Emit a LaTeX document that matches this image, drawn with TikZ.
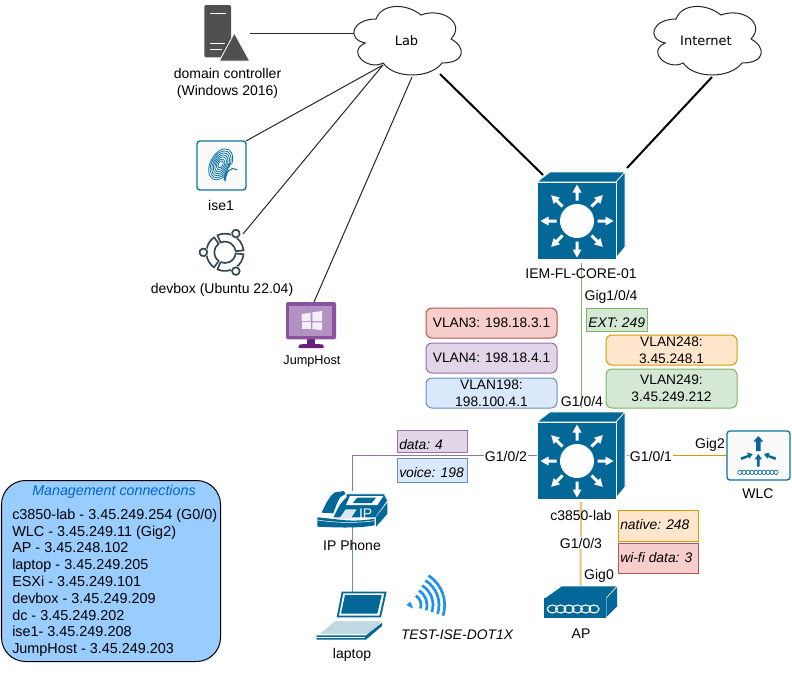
\documentclass[tikz,border=0pt]{standalone}
\usepackage{fontspec}
\setmainfont{Liberation Sans}
\newfontfamily\cloudfont{DejaVu Sans}
\usetikzlibrary{calc}
\definecolor{cis}{HTML}{036897}
\definecolor{rF}{HTML}{F8CECC}\definecolor{rD}{HTML}{B85450}
\definecolor{pF}{HTML}{E1D5E7}\definecolor{pD}{HTML}{9673A6}
\definecolor{bF}{HTML}{DAE8FC}\definecolor{bD}{HTML}{6C8EBF}
\definecolor{gF}{HTML}{D5E8D4}\definecolor{gD}{HTML}{82B366}
\definecolor{oF}{HTML}{FFE6CC}\definecolor{oD}{HTML}{D79B00}
\definecolor{yD}{HTML}{E5C77A}
\definecolor{mgmt}{HTML}{99CCFF}
\definecolor{mgmtT}{HTML}{0066CC}
\definecolor{srv}{HTML}{505050}
\definecolor{ubu}{HTML}{37474F}
\definecolor{isec}{HTML}{10739E}
\definecolor{jm}{HTML}{8A519E}
\definecolor{jl}{HTML}{B391C3}
\definecolor{jd}{HTML}{68217A}
\definecolor{wifi}{HTML}{1E90F0}
\tikzset{
  txt/.style={inner sep=0pt,font=\fontsize{10.5}{12.75}\selectfont,align=center},
  lbl/.style={txt,fill=white,inner xsep=1pt,inner ysep=1pt},
  vlan/.style n args={2}{draw=#2,fill=#1,line width=.75pt,rounded corners=4.5pt,inner sep=0pt,font=\fontsize{10.3}{12.9}\selectfont,align=center},
  tag/.style n args={2}{draw=#2,fill=#1,line width=.75pt},
  tagt/.style={inner sep=0pt,font=\fontsize{10.4}{12}\selectfont\itshape,anchor=west},
  slot/.style={inner sep=0pt,outer sep=0pt,rectangle},
  thin1/.style={line width=.75pt,draw=black!85},
  thick2/.style={line width=1.5pt,draw=black},
}
\newcommand{\slotnode}[5]{\node[slot,minimum width=#4*.75pt,minimum height=#5*.75pt,anchor=north west] (#1) at (#2,#3) {};}
\newcommand{\cloudicon}[2]{%
  \begin{scope}[shift={(#1,#2)},x=90pt,y=-60pt]
  \draw[line width=.75pt,draw=black!85,fill=white] (.25,.25) .. controls (.05,.25) and (0,.5) .. (.16,.55)
   .. controls (0,.66) and (.18,.9) .. (.31,.8)
   .. controls (.4,1) and (.7,1) .. (.8,.8)
   .. controls (1,.8) and (1,.6) .. (.875,.5)
   .. controls (1,.3) and (.8,.1) .. (.625,.2)
   .. controls (.5,.05) and (.3,.05) .. (.25,.25) -- cycle;
  \end{scope}}
\newcommand{\switchicon}[2]{%
  \begin{scope}[shift={(#1,#2)}]
  \fill[cis,draw=white,line width=.5pt] (0,0) -- (13,-10) -- (88,-10) -- (79,0) -- cycle;
  \fill[cis,draw=white,line width=.5pt] (79,0) -- (88,-10) -- (88,65) -- (79,76) -- cycle;
  \fill[cis,draw=white,line width=.5pt] (0,0) rectangle (79,77);
  \fill[white] (40,39) circle (17);
  \foreach \a in {0,45,...,315}{
    \begin{scope}[shift={(40,39)},rotate=\a]
    \fill[white] (20.5,-1.5) -- (28.5,-1.5) -- (28.5,-4.5) -- (36.5,0) -- (28.5,4.5) -- (28.5,1.5) -- (20.5,1.5) -- cycle;
    \end{scope}}
  \end{scope}}
\begin{document}
\begin{tikzpicture}[x=.75pt,y=-.75pt]
\useasboundingbox (0,0) rectangle (792,675);
\fill[white] (0,0) rectangle (792,675);

% slots
\slotnode{dc}{204}{5}{46}{56}
\slotnode{ise}{197}{141}{49}{49}
\slotnode{devbox}{200}{230}{44}{44}
\slotnode{jump}{286}{302}{50}{52}
\slotnode{core}{537}{172}{88}{87}
\slotnode{lab3850}{537}{411}{88}{89}
\slotnode{wlc}{727}{431}{63}{49}
\slotnode{ap}{544}{586}{73}{32}
\slotnode{phone}{317}{491}{70}{36}
\slotnode{lapt}{317}{592}{70}{48}
\slotnode{wific}{405}{581}{38}{38}
\slotnode{labcloud}{346}{-1}{120}{80}
\slotnode{netcloud}{646}{-1}{120}{80}
\coordinate (labW) at (354,33);
\coordinate (labSW) at (383,65);
\coordinate (labS) at (412,77);
\coordinate (labSE) at (440,74);
\coordinate (netS) at (712,77);

% connectors
\draw[thin1] (dc.east) -- (labW);
\draw[thin1] (ise.north east) -- (labSW);
\draw[thin1] ($(devbox.north east)+(-1,4)$) -- (labSW);
\draw[thin1] ($(jump.north)+(3,0)$) -- (labS);
\draw[thick2] (labSE) -- ($(core.north west)+(6,3)$);
\draw[thick2] (netS) -- ($(core.north east)+(2,-4)$);
\draw[gD,line width=.75pt,shorten <=3pt,shorten >=2pt] (core.south) -- (lab3850.north);
\draw[oD,line width=.75pt,shorten <=1.5pt] (lab3850.east) -- (wlc.west);
\draw[pD,line width=.75pt] (lab3850.west) -| (phone.north);
\draw[bD,line width=.75pt] (phone.south) -- (lapt.north);
\draw[yD,line width=1.5pt,shorten <=1.5pt] (lab3850.south) -- (ap.north);

% clouds
\cloudicon{346}{-1}
\cloudicon{646}{-1}
\node[inner sep=0pt,font=\cloudfont\fontsize{9.75}{11}\selectfont] (labt) at (406.5,41) {Lab};
\node[inner sep=0pt,font=\cloudfont\fontsize{9.75}{11}\selectfont] (nett) at (706,41) {Internet};

% domain controller
\begin{scope}[shift={(150,0)},x=.25pt,y=-.25pt]
  \fill[srv,rounded corners=1.5pt] (163,15) rectangle (243,172);
  \draw[white,line width=1.2pt] (180,40) -- (228,40) (180,130) -- (225,130) (180,148) -- (215,148);
  \fill[srv,draw=white,line width=.6pt,line join=round] (208,183) -- (299,183) -- (253,99) -- cycle;
\end{scope}
\node[txt] (dct) at (227.5,83.5) {domain controller\\(Windows 2016)};

% ise
\draw[isec,fill=black!2,line width=1pt,rounded corners=2.2pt] (ise.north west) rectangle (ise.south east);
\begin{scope}[shift={(150,130)},x=.25pt,y=-.25pt]
  \begin{scope}[shift={(212,103)},rotate=-28]
  \foreach \s in {1,.87,.74,.61,.48,.35,.22}
    \draw[isec,line width=.6pt] (0,0) ellipse ({31*\s} and {50*\s});
  \end{scope}
  \fill[black!2] (228,160) -- (270,130) -- (248,100) -- (228,122) -- cycle;
  \draw[isec,line width=.8pt] (225,155) .. controls (228,125) and (240,108) .. (262,120) (240,100) .. controls (235,115) and (226,125) .. (222,150);
\end{scope}
\node[txt] (iset) at (221,205) {ise1};

% ubuntu
\begin{scope}[shift={(150,130)},x=.25pt,y=-.25pt]
  \foreach \a in {0,120,240}{
    \begin{scope}[shift={(225,367)},rotate=\a]
    \draw[ubu,line width=1.25pt,fill=white,line join=round] (6:32) arc (6:114:32) -- (114:56) arc (114:6:56) -- cycle;
    \fill[white] (60:65) circle (16);
    \draw[ubu,line width=1.25pt] (60:65) circle (11.5);
    \end{scope}}
\end{scope}
\node[txt] (devt) at (222,290) {devbox (Ubuntu 22.04)};

% jumphost
\begin{scope}[shift={(150,130)},x=.25pt,y=-.25pt]
  \fill[jd] (472,625) rectangle (495,644);
  \fill[jd,rounded corners=1.5pt] (445,654) -- (445,648) .. controls (450,642) and (517,642) .. (522,648) -- (522,654) -- cycle;
  \fill[jm,rounded corners=1.5pt] (408,516) rectangle (558,628);
  \fill[jl] (418,527) rectangle (547,617);
  \fill[white!85!jl] (455,552) -- (482,548) -- (482,573) -- (455,573) -- cycle;
  \fill[white!85!jl] (487,547) -- (516,543) -- (516,573) -- (487,573) -- cycle;
  \fill[white!85!jl] (455,577) -- (482,577) -- (482,597) -- (455,597) -- cycle;
  \fill[white!85!jl] (487,577) -- (516,577) -- (516,601) -- (487,597) -- cycle;
  \fill[yellow!60!black] (482,522) circle (2);
\end{scope}
\node[inner sep=0pt,font=\fontsize{9.5}{11}\selectfont] (jumpt) at (312,361) {JumpHost};

% core switch
\switchicon{537}{182}
\node[txt] (coret) at (581,274) {IEM-FL-CORE-01};
\node[lbl,anchor=west,fill=white] (g104a) at (583,297) {Gig1/0/4};
\node[tag={gF}{gD},minimum width=61*.75pt,minimum height=23*.75pt,inner sep=0pt] (ext) at (616.5,319.5) {};
\node[tagt] (extt) at (588,323) {EXT: 249};

% vlan boxes
\node[vlan={rF}{rD},minimum width=131*.75pt,minimum height=30*.75pt] (v3) at (491.5,323) {VLAN3: 198.18.3.1};
\node[vlan={pF}{pD},minimum width=131*.75pt,minimum height=30*.75pt] (v4) at (491.5,358) {VLAN4: 198.18.4.1};
\node[vlan={bF}{bD},minimum width=131*.75pt,minimum height=30*.75pt] (v198) at (491.5,393) {VLAN198:\\198.100.4.1};
\node[vlan={oF}{oD},minimum width=131*.75pt,minimum height=30*.75pt] (v248) at (671.5,350) {VLAN248:\\3.45.248.1};
\node[vlan={gF}{gD},minimum width=131*.75pt,minimum height=39*.75pt] (v249) at (671.5,388.5) {VLAN249:\\3.45.249.212};
\node[lbl,fill=none] (g104b) at (582,401) {G1/0/4};

% c3850
\switchicon{537}{422}
\node[txt] (labt3850) at (581,515) {c3850-lab};
\node[lbl] (g102) at (506,456) {G1/0/2};
\node[lbl] (g101) at (651,456) {G1/0/1};
\node[lbl] (g103) at (581,543) {G1/0/3};
\node[txt] (gig2) at (710,445) {Gig2};
\node[txt] (gig0) at (599,576) {Gig0};

% port tags
\node[tag={pF}{pD},minimum width=70*.75pt,minimum height=22*.75pt,inner sep=0pt] (tdata) at (432,441) {};
\node[tagt] (tdatat) at (399,445) {data: 4};
\node[tag={bF}{bD},minimum width=70*.75pt,minimum height=24*.75pt,inner sep=0pt] (tvoice) at (432,470) {};
\node[tagt] (tvoicet) at (399,473) {voice: 198};
\node[tag={oF}{oD},minimum width=80*.75pt,minimum height=31*.75pt,inner sep=0pt] (tnat) at (658,525.5) {};
\node[tagt] (tnatt) at (620,525) {native: 248};
\node[tag={rF}{rD},minimum width=80*.75pt,minimum height=30*.75pt,inner sep=0pt] (twifi) at (658,558) {};
\node[tagt] (twifit) at (620,558) {wi-fi data: 3};

% WLC
\draw[isec,fill=black!2,line width=1pt,rounded corners=2.2pt] (wlc.north west) rectangle (wlc.south east);
\begin{scope}[shift={(520,400)},x=.25pt,y=-.25pt]
  \fill[cis] (708,153) -- (708,125) -- (700,125) -- (715,108) -- (730,125) -- (722,125) -- (722,153) -- cycle;
  \fill[cis] (711,200) -- (711,178) -- (704,178) -- (715,162) -- (726,178) -- (719,178) -- (719,200) -- cycle;
  \fill[cis] (664,180) -- (662,172) -- (684,165) -- (681,158) -- (698,162) -- (688,176) -- (686,171) -- cycle;
  \fill[cis] (766,180) -- (768,172) -- (746,165) -- (749,158) -- (732,162) -- (742,176) -- (744,171) -- cycle;
  \foreach \x in {660,672,...,768}
    \draw[cis,line width=.45pt] (\x,217) circle (6.5);
\end{scope}
\node[txt] (wlct) at (758,494) {WLC};

% AP
\begin{scope}[shift={(520,400)},x=.25pt,y=-.25pt]
  \fill[cis,draw=white,line width=.4pt] (73,595) -- (125,558) -- (292,558) -- (258,595) -- cycle;
  \fill[cis,draw=white,line width=.4pt] (258,595) -- (292,558) -- (292,620) -- (258,654) -- cycle;
  \fill[cis] (73,595) rectangle (258,654);
  \foreach \x in {97,122,...,222}
    \draw[white,line width=.85pt] (\x,627) ellipse (15 and 12);
\end{scope}
\node[txt] (apt) at (581,634) {AP};

% IP phone
\begin{scope}[shift={(300,410)},x=.25pt,y=-.25pt]
  \fill[cis] (65,308) .. controls (75,285) and (88,258) .. (105,247) -- (132,243) -- (136,252) -- (120,262) .. controls (110,280) and (105,295) .. (100,310) -- cycle;
  \fill[cis] (140,252) -- (252,252) -- (262,272) -- (228,322) -- (100,322) .. controls (112,300) and (118,280) .. (140,262) -- cycle;
  \draw[white!70!cis,line width=.4pt] (140,252) -- (252,252) -- (262,272) -- (228,320);
  \fill[white] (150,258) -- (250,258) -- (232,285) -- (138,285) -- cycle;
  \fill[cis] (172,263) -- (228,263) -- (215,279) -- (158,279) -- cycle;
  \fill[white!85!cis] (137,298) -- (170,298) -- (152,326) -- (118,326) -- cycle;
  \fill[cis] (228,322) -- (262,278) -- (262,312) -- (228,350) -- cycle;
  \fill[cis] (52,322) -- (110,328) .. controls (150,334) and (190,332) .. (224,326) -- (224,346) .. controls (170,356) and (100,352) .. (52,350) -- cycle;
  \draw[white,line width=.4pt] (52,330) .. controls (100,338) and (170,340) .. (224,332);
  \node[inner sep=0pt,text=white,font=\fontsize{10.5}{12}\selectfont] (ipt) at (197,310) {IP};
\end{scope}
\node[lbl,fill=none] (phonet) at (352,545) {IP Phone};

% laptop
\begin{scope}[shift={(300,560)},x=.25pt,y=-.25pt]
  \fill[cis] (125,95) -- (260,95) -- (243,172) -- (110,172) -- cycle;
  \fill[white] (130,100) -- (253,100) -- (238,167) -- (117,167) -- cycle;
  \fill[cis] (135,105) -- (245,105) -- (232,161) -- (123,161) -- cycle;
  \fill[white!75!cis] (105,183) -- (245,183) -- (205,222) -- (60,222) -- cycle;
  \fill[cis] (50,226) -- (198,226) -- (246,188) -- (246,198) -- (198,239) -- (50,239) -- cycle;
  \draw[white,line width=.4pt] (50,231) -- (196,231);
\end{scope}
\node[txt] (laptt) at (352,655) {laptop};

% wifi
\begin{scope}[shift={(300,560)},x=.25pt,y=-.25pt]
  \fill[wifi] (319,135) -- (331,125) -- (340,146) -- cycle;
  \foreach \r in {33,51,69,87,104}
    \draw[wifi,line width=2pt] ($(330,135)+(-58:\r)$) arc (-58:18:\r);
\end{scope}
\node[inner sep=0pt,font=\fontsize{10.4}{12}\selectfont\itshape] (ssid) at (457,635) {TEST-ISE-DOT1X};

% management
\node[draw=black,fill=mgmt,line width=.75pt,rounded corners=18pt,minimum width=219*.75pt,minimum height=181*.75pt,inner sep=0pt,anchor=north west] (mgmtb) at (1,480) {};
\node[inner sep=0pt,text=mgmtT,font=\fontsize{10.7}{12}\selectfont\itshape] (mgmtt) at (114,492) {Management connections};
\node[inner sep=0pt,anchor=north west,align=left,font=\fontsize{10.8}{12.6}\selectfont] (mgmtl) at (12,508.5) {c3850-lab - 3.45.249.254 (G0/0)\\WLC - 3.45.249.11 (Gig2)\\AP - 3.45.248.102\\laptop - 3.45.249.205\\ESXi - 3.45.249.101\\devbox - 3.45.249.209\\dc - 3.45.249.202\\ise1- 3.45.249.208\\JumpHost - 3.45.249.203};
\end{tikzpicture}
\end{document}
